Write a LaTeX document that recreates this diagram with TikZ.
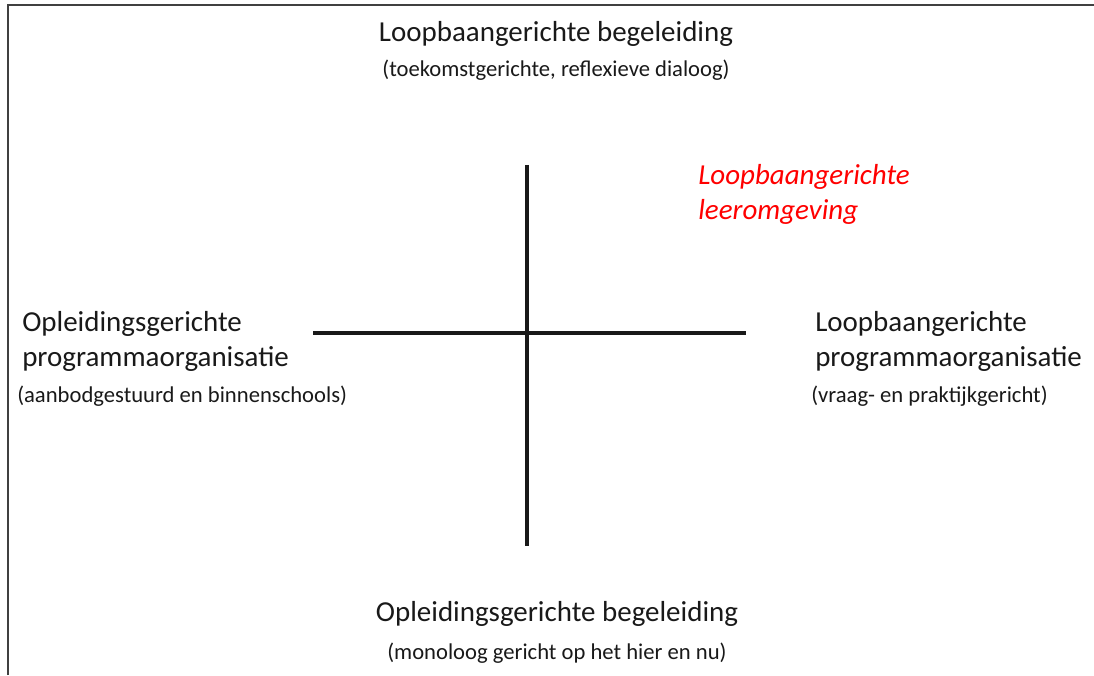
\documentclass[tikz,border=0pt]{standalone}
\usepackage{fontspec}
\setmainfont{Carlito}
\usetikzlibrary{positioning}

\begin{document}
\begin{tikzpicture}[
    axis/.style={line width=2.3pt, black!90},
    frame/.style={line width=1.3pt, black!75},
    pole/.style={font=\fontsize{20.6}{24.9}\selectfont, align=left, text=black!90, inner sep=0pt},
    note/.style={font=\fontsize{16.1}{18}\selectfont, text=black!90, inner sep=0pt},
    quad/.style={font=\fontsize{20.6}{24.9}\selectfont\itshape, align=left, text=red, inner sep=0pt}
]
    \useasboundingbox (0,0) rectangle (27.35,16.875);

    % Frame (left and top edge only)
    \coordinate (fb) at (0.2,0);
    \coordinate (fc) at (0.2,16.75);
    \coordinate (fr) at (27.35,16.75);
    \draw[frame] (fb) -- (fc) -- (fr);

    % Axes
    \coordinate (vtop) at (13.175,12.75);
    \coordinate (vbot) at (13.175,3.225);
    \coordinate (hleft) at (7.825,8.55);
    \coordinate (hright) at (18.65,8.55);
    \draw[axis] (vtop) -- (vbot);
    \draw[axis] (hleft) -- (hright);

    % Top pole
    \node[pole, anchor=base] (top) at (13.9,15.825) {Loopbaangerichte begeleiding};
    \node[note, anchor=base] (topsub) at (13.9,14.95) {(toekomstgerichte, reflexieve dialoog)};

    % Bottom pole
    \node[pole, anchor=base] (bot) at (13.925,1.33) {Opleidingsgerichte begeleiding};
    \node[note, anchor=base] (botsub) at (13.925,0.4) {(monoloog gericht op het hier en nu)};

    % Left pole (base = last line)
    \node[pole, anchor=base west] (left) at (0.55,7.7) {Opleidingsgerichte\\programmaorganisatie};
    \node[note, anchor=base west] (leftsub) at (0.425,6.8) {(aanbodgestuurd en binnenschools)};

    % Right pole
    \node[pole, anchor=base west] (right) at (20.375,7.7) {Loopbaangerichte\\programmaorganisatie};
    \node[note, anchor=base west] (rightsub) at (20.275,6.8) {(vraag- en praktijkgericht)};

    % Quadrant label
    \node[quad, anchor=base west] (env) at (17.45,11.375) {Loopbaangerichte\\leeromgeving};
\end{tikzpicture}
\end{document}
